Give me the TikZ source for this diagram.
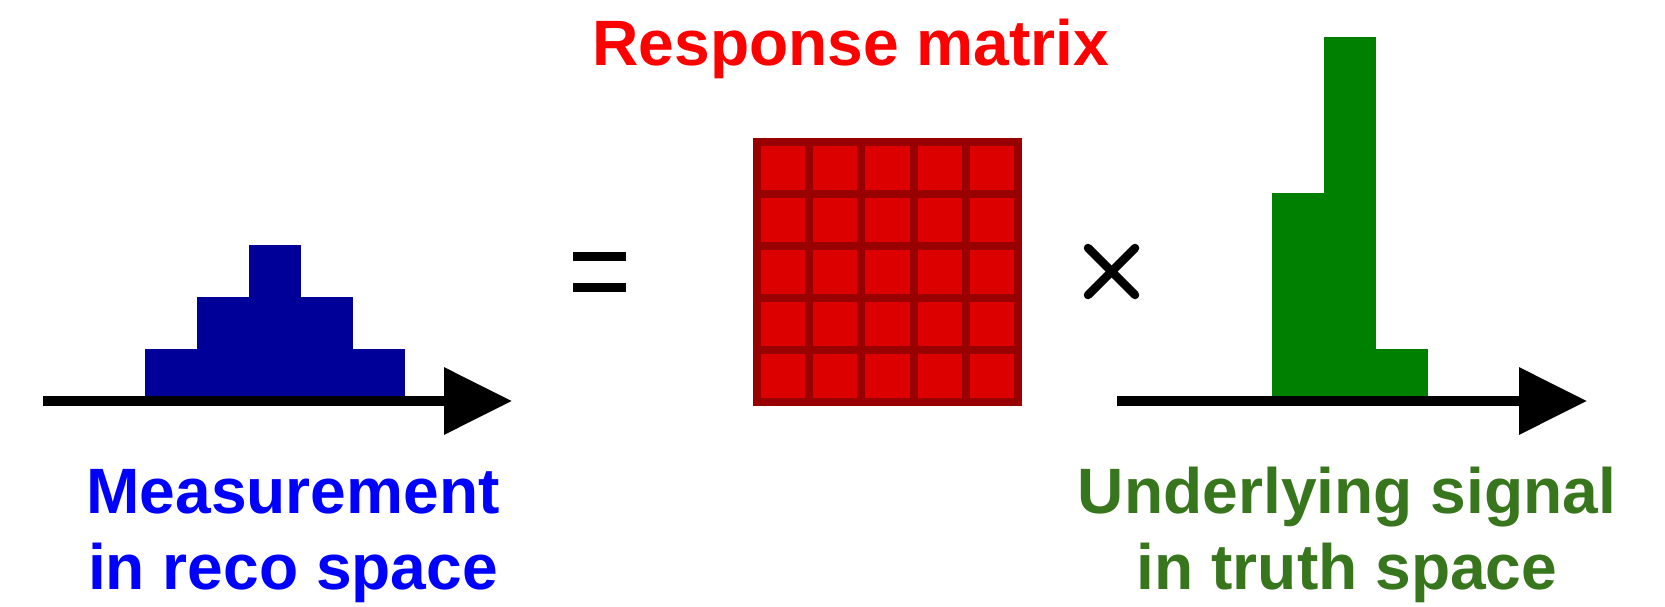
\documentclass[tikz,border=0pt]{standalone}
\usepackage{fontspec}
\setmainfont{Liberation Sans}
\usetikzlibrary{arrows.meta}

\definecolor{recoblue}{HTML}{000099}
\definecolor{textblue}{HTML}{0000FF}
\definecolor{truthgreen}{HTML}{008000}
\definecolor{textgreen}{HTML}{38761D}
\definecolor{cellred}{HTML}{DD0000}
\definecolor{gridred}{HTML}{990000}
\definecolor{titlered}{HTML}{FF0000}

\begin{document}
\begin{tikzpicture}[x=0.02cm,y=0.02cm,
    axis/.style={line width=2mm,-{Triangle[length=13.6mm,width=13mm]}},
    label/.style={font=\fontsize{36.5}{43}\selectfont\bfseries,align=center,anchor=base,inner sep=0pt},
    sign/.style={line width=1.8mm}]
  \useasboundingbox (0,0) rectangle (1665,606);
  % measured spectrum
  \foreach \h [count=\i from 0] in {1,2,3,2,1}
    \fill[recoblue] (145+52*\i,205) rectangle ++(52,52*\h);
  \draw[axis] (43,205) -- (512,205);
  \node[label,textblue] (meas) at (293,17) {Measurement\\in reco space};
  % equals
  \draw[sign] (573,350) -- (626,350);
  \draw[sign] (573,318.5) -- (626,318.5);
  % response matrix
  \fill[cellred] (753,200) rectangle (1022,468);
  \foreach \k in {0,...,5} {
    \draw[gridred,line width=1.6mm] (757+52.2*\k,200) -- (757+52.2*\k,468);
    \draw[gridred,line width=1.6mm] (753,204+52*\k) -- (1022,204+52*\k);
  }
  \node[label,titlered] (resp) at (851,540) {Response matrix};
  % times
  \draw[line width=1.7mm,line cap=round] (1088,358) -- (1135,311);
  \draw[line width=1.7mm,line cap=round] (1088,311) -- (1135,358);
  % true spectrum
  \foreach \h [count=\i from 0] in {4,7,1}
    \fill[truthgreen] (1272+52*\i,205) rectangle ++(52,52*\h);
  \draw[axis] (1117,205) -- (1587,205);
  \node[label,textgreen] (truth) at (1347,17) {Underlying signal\\in truth space};
\end{tikzpicture}
\end{document}
